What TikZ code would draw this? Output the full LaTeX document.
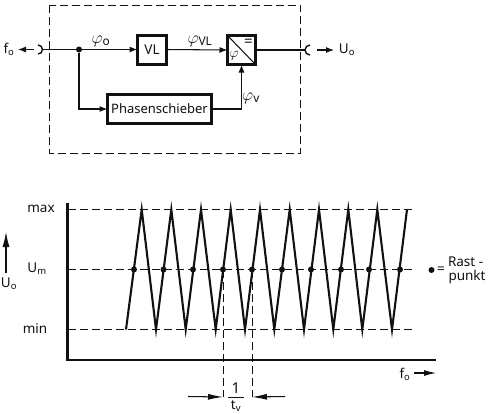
\documentclass[tikz,border=0pt]{standalone}
\usepackage{fontspec}
\setmainfont{Noto Sans}
\usetikzlibrary{arrows.meta}
\definecolor{ink}{HTML}{111111}
\tikzset{
  x=1pt,y=-1pt,
  every node/.style={inner sep=0pt,outer sep=0pt,text=ink,font=\fontsize{13.5}{13.5}\selectfont},
  wire/.style={draw=ink,line width=1.05pt},
  flow/.style={wire,-{Latex[length=8pt,width=6pt]}},
  blockbox/.style={draw=ink,line width=3pt,fill=white,minimum width=#1,minimum height=29pt},
  frame/.style={draw=ink,line width=0.9pt,dash pattern=on 8pt off 4pt},
  level/.style={draw=ink,line width=0.9pt,dash pattern=on 8pt off 4pt},
  wave/.style={draw=ink,line width=2.1pt,line join=miter},
  axisline/.style={draw=ink,line width=2.2pt},
  dotmark/.style={circle,fill=ink,minimum size=6pt},
  phase/.style={font=\fontsize{17}{17}\selectfont},
}
\begin{document}
\begin{tikzpicture}
\useasboundingbox (0,0) rectangle (489,413);
\fill[white] (0,0) rectangle (489,413);
% frame
\draw[frame] (49.5,5) rectangle (300.5,153);
% blocks
\node[blockbox=29pt] (vl) at (152,49.5) {VL};
\node[blockbox=28pt] (cmp) at (241.5,50) {};
\node[blockbox=104pt] (ps) at (159.5,109) {\fontsize{13}{13}\selectfont Phasenschieber};
\draw[wire] (cmp.north west) -- (cmp.south east);
\node[font=\fontsize{15}{15}\selectfont] at (248.5,42.5) {=};
\node[font=\fontsize{15}{15}\selectfont] at (234,56) {$\varphi$};
% connectors
\coordinate (jackL) at (42,49.5);
\coordinate (jackR) at (306,50);
\node[dotmark] (junction) at (79,49.5) {};
\draw[flow] (jackL) -- (junction) -- (vl.west);
\draw[flow] (vl.east) -- (cmp.west);
\draw[wire] (cmp.east) -- (jackR);
\draw[flow] (junction) |- (ps.west);
\draw[flow] (ps.east) -| (cmp.south);
% jacks
\draw[wire,line width=1.4pt] (38,45) arc[start angle=-90,end angle=90,radius=4.5];
\draw[wire,line width=1.4pt] (310,45) arc[start angle=-90,end angle=-270,radius=5];
\coordinate (fa) at (34,49.5); \coordinate (fb) at (18,49.5);
\draw[flow] (fa) -- (fb);
\coordinate (ua) at (317,50); \coordinate (ub) at (334,50);
\draw[flow] (ua) -- (ub);
\node (f0) at (9,49.5) {f\textsubscript{o}};
\node (u0) at (347,50) {U\textsubscript{o}};
\node[phase] at (101,41) {$\varphi_{\mathrm{o}}$};
\node[phase] at (200,41) {$\varphi_{\mathrm{VL}}$};
\node[phase] at (251,98) {$\varphi_{\mathrm{v}}$};
% chart
\draw[level] (68,209.5) -- (413,209.5);
\draw[level] (68,269.5) -- (415,269.5);
\draw[level] (68,329.5) -- (413,329.5);
\draw[axisline] (67.5,203) -- (67.5,360) -- (436,360);
\draw[wave] (126,329.5) -- (141.7,209.5) -- (156,329.5) -- (171.3,209.5) -- (185.7,329.5) -- (201,209.5) -- (215.7,329.5) -- (230.7,209.5) -- (245,329.5) -- (260,209.5) -- (274.3,329.5) -- (289.7,209.5) -- (304,329.5) -- (319,209.5) -- (333.3,329.5) -- (348.3,209.5) -- (362.3,329.5) -- (377.3,209.5) -- (392,329.5) -- (407,209.5);
\foreach \px in {134,163.5,193,223,252,282,311,341,369,400} \node[dotmark] at (\px,269.5) {};
\node (maxl) at (41,209) {max};
\node (uml) at (37,269) {U\textsubscript{m}};
\node (minl) at (35,329) {min};
\coordinate (ya) at (6,273); \coordinate (yb) at (6,232);
\draw[wire,-{Latex[length=15pt,width=7pt]}] (ya) -- (yb);
\node at (9,284) {U\textsubscript{o}};
\node[dotmark] at (431.5,270) {};
\node at (441,270) {=};
\node[anchor=west] at (448,262) {Rast -};
\node[anchor=west] at (448.5,277) {punkt};
\node at (405,374) {f\textsubscript{o}};
\coordinate (xa) at (414,373); \coordinate (xb) at (436,373);
\draw[wire,-{Latex[length=12pt,width=6pt]}] (xa) -- (xb);
% period
\coordinate (p1t) at (223,270); \coordinate (p1b) at (223,397);
\coordinate (p2t) at (252,270); \coordinate (p2b) at (252,397);
\draw[level] (p1t) -- (p1b);
\draw[level] (p2t) -- (p2b);
\coordinate (la) at (188,396.5); \coordinate (ra) at (285,396.5);
\draw[wire,-{Latex[length=15pt,width=6pt]}] (la) -- (p1b);
\draw[wire,-{Latex[length=15pt,width=6pt]}] (ra) -- (p2b);
\node[font=\fontsize{15}{15}\selectfont] at (236,388) {1};
\draw[wire] (228,397.5) -- (244,397.5);
\node at (236,406) {t\textsubscript{v}};
\end{tikzpicture}
\end{document}
